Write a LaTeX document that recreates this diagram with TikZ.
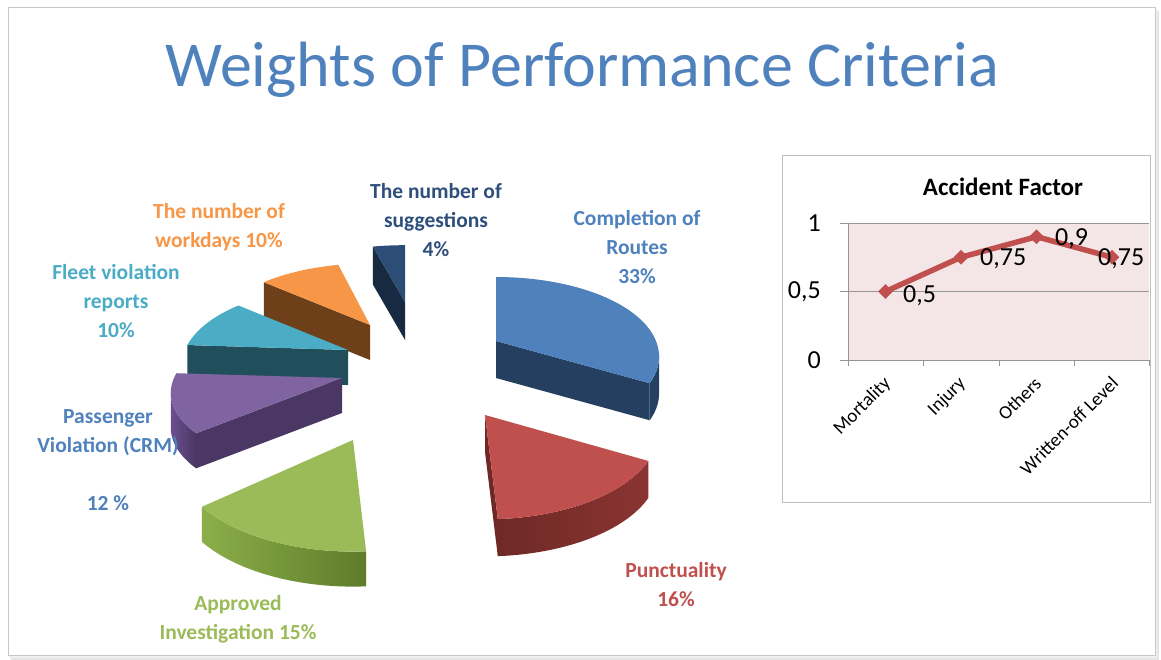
\documentclass[tikz,border=0pt]{standalone}
\usepackage{fontspec}
\setmainfont{Carlito}
\usetikzlibrary{shapes.geometric}
\definecolor{ttl}{HTML}{4F81BD}
\definecolor{cblue}{HTML}{4F81BD}
\definecolor{cblueD}{HTML}{243F60}
\definecolor{cred}{HTML}{C0504D}
\definecolor{credD}{HTML}{6E2927}
\definecolor{credM}{HTML}{8A3432}
\definecolor{cgreen}{HTML}{9BBB59}
\definecolor{cgreenD}{HTML}{5E7C2A}
\definecolor{cgreenM}{HTML}{8CAE4A}
\definecolor{cpurple}{HTML}{8064A2}
\definecolor{cpurpleD}{HTML}{4A3763}
\definecolor{cpurpleM}{HTML}{6A5090}
\definecolor{cteal}{HTML}{4BACC6}
\definecolor{ctealD}{HTML}{214E5B}
\definecolor{corange}{HTML}{F79646}
\definecolor{corangeD}{HTML}{6E4019}
\definecolor{cnavy}{HTML}{2C4D75}
\definecolor{cnavyD}{HTML}{172A42}
\definecolor{lblnavy}{HTML}{2F4F7B}
\definecolor{plotbg}{RGB}{244,230,230}
\definecolor{gridc}{RGB}{150,150,150}

% top face of a slice: px py R Ry t1 t2 style
\newcommand\sliceTop[7]{%
\fill[#7] (#1,#2) -- plot[domain=#5:#6,samples=50] ({#1+#3*sin(\x)*(1-0.2*cos(\x))},{#2-#4*cos(\x)*(1-0.2*cos(\x))}) -- cycle;}
% radial face: px py R Ry h t style
\newcommand\sliceRad[7]{%
\fill[#7] (#1,#2) -- ({#1+#3*sin(#6)*(1-0.2*cos(#6))},{#2-#4*cos(#6)*(1-0.2*cos(#6))}) -- ({#1+#3*sin(#6)*(1-0.2*cos(#6))},{#2-#4*cos(#6)*(1-0.2*cos(#6))+#5}) -- (#1,#2+#5) -- cycle;}
% outer rim: px py R Ry h a b style
\newcommand\sliceRim[8]{%
\path[#8] plot[domain=#6:#7,samples=40] ({#1+#3*sin(\x)*(1-0.2*cos(\x))},{#2-#4*cos(\x)*(1-0.2*cos(\x))}) -- plot[domain=#7:#6,samples=40] ({#1+#3*sin(\x)*(1-0.2*cos(\x))},{#2-#4*cos(\x)*(1-0.2*cos(\x))+#5}) -- cycle;}

\tikzset{
  lbl/.style={font=\fontsize{21.5}{29}\selectfont\bfseries, align=center, inner sep=0pt},
  ttlstyle/.style={font=\fontsize{64}{70}\selectfont, text=ttl, inner sep=0pt},
  axlbl/.style={font=\fontsize{26}{30}\selectfont, inner sep=0pt},
  catlbl/.style={font=\fontsize{19}{22}\selectfont, inner sep=0pt, rotate=45, anchor=east},
  chtitle/.style={font=\fontsize{25}{30}\selectfont\bfseries, inner sep=0pt},
  gridline/.style={draw=gridc, line width=0.8pt},
  dataline/.style={draw=cred, line width=5.5pt, line join=round},
  mk/.style={diamond, fill=cred, minimum size=15pt, inner sep=0pt},
}

\begin{document}
\begin{tikzpicture}[x=1pt,y=-1pt]
\useasboundingbox (0,0) rectangle (1161,660);
\fill[white] (0,0) rectangle (1161,660);
% slide frame with soft shadow
\fill[black!10] (11,11) rectangle (1159,660);
\fill[black!6] (9,9) rectangle (1157,658);
\fill[white] (8,8) rectangle (1155,655);
\draw[black!22, line width=1pt] (8,8) rectangle (1155,655);

\node[ttlstyle, anchor=base] (title) at (582,87) {Weights of Performance Criteria};

% ---------- 3D exploded pie ----------
% navy: suggestions 4%
\sliceRad{405}{302}{160}{71}{38}{345.6}{fill=cnavyD}
\sliceTop{405}{302}{160}{71}{345.6}{360}{fill=cnavy}
% orange: workdays 10%
\sliceRad{370}{325}{158}{77}{35}{309.6}{fill=corangeD}
\sliceTop{370}{325}{158}{77}{309.6}{345.6}{fill=corange}
% teal: fleet violation 10%
\sliceRad{348}{350}{163}{80}{35}{273.6}{fill=ctealD}
\sliceTop{348}{350}{163}{80}{273.6}{309.6}{fill=cteal}
% purple: passenger violation 12%
\sliceRim{342}{378}{168}{77}{35}{230.4}{260}{left color=cpurpleM,right color=cpurpleD}
\sliceRad{342}{378}{168}{77}{35}{230.4}{fill=cpurpleD}
\sliceTop{342}{378}{168}{77}{230.4}{273.6}{fill=cpurple}
% blue: completion of routes 33%
\sliceRim{496}{341}{160}{80}{37}{100}{118.8}{fill=cblueD}
\sliceRad{496}{341}{160}{80}{37}{118.8}{fill=cblueD}
\sliceTop{496}{341}{160}{80}{0}{118.8}{fill=cblue}
% red: punctuality 16%
\sliceRim{485}{415}{170}{87}{37}{118.8}{176.4}{left color=credD,right color=credM}
\sliceRad{485}{415}{170}{87}{37}{176.4}{fill=credD}
\sliceTop{485}{415}{170}{87}{118.8}{176.4}{fill=cred}
% green: approved investigation 15%
\sliceRim{353}{440}{174}{93}{35}{176.4}{230.4}{left color=cgreenM,right color=cgreenD}
\sliceTop{353}{440}{174}{93}{176.4}{230.4}{fill=cgreen}

% pie labels
\node[lbl, text=cblue] (lroutes) at (637,247.5) {Completion of\\Routes\\33\%};
\node[lbl, text=lblnavy] (lsugg) at (436,220) {The number of\\suggestions\\4\%};
\node[lbl, text=corange] (lwork) at (219,227) {The number of\\workdays 10\%};
\node[lbl, text=cteal] (lfleet) at (116,301.5) {Fleet violation\\reports\\10\%};
\node[lbl, text=cblue] (lpass) at (108,460) {Passenger\\Violation (CRM)\\[29pt]12 \%};
\node[lbl, text=cgreen] (lappr) at (238,619) {Approved\\Investigation 15\%};
\node[lbl, text=cred] (lpunc) at (676,585) {Punctuality\\16\%};

% ---------- Accident Factor chart ----------
\draw[black!25, fill=white, line width=0.8pt] (782,155) rectangle (1150,502);
\fill[plotbg] (848,223) rectangle (1149,360);
\draw[gridline] (840,223) -- (1149,223);
\draw[gridline] (840,291.5) -- (1149,291.5);
\draw[gridline] (840,360) -- (1149,360);
\draw[gridline] (848,223) -- (848,360);
\foreach \tx in {848,923.5,999,1074.5,1149} {\draw[gridline] (\tx,360) -- (\tx,366);}
\node[chtitle, anchor=center] (ctitle) at (1003,187) {Accident Factor};
\node[axlbl, anchor=east] (y1) at (821,223) {1};
\node[axlbl, anchor=east] (y05) at (821,292) {0,5};
\node[axlbl, anchor=east] (y0) at (821,360) {0};

\coordinate (p1) at (885.5,291.5);
\coordinate (p2) at (961,257.25);
\coordinate (p3) at (1036.5,236.7);
\coordinate (p4) at (1112,257.25);
\draw[dataline] (p1) -- (p2) -- (p3) -- (p4);
\node[mk] (m1) at (p1) {};
\node[mk] (m2) at (p2) {};
\node[mk] (m3) at (p3) {};
\node[mk] (m4) at (p4) {};
\node[axlbl, anchor=west] (d1) at (903,296) {0,5};
\node[axlbl, anchor=west] (d2) at (980,259) {0,75};
\node[axlbl, anchor=west] (d3) at (1055,239) {0,9};
\node[axlbl, anchor=west] (d4) at (1098,259) {0,75};

\node[catlbl] (c1) at (888,381) {Mortality};
\node[catlbl] (c2) at (963,381) {Injury};
\node[catlbl] (c3) at (1038,380) {Others};
\node[catlbl] (c4) at (1115,380) {Written-off Level};
\end{tikzpicture}
\end{document}
